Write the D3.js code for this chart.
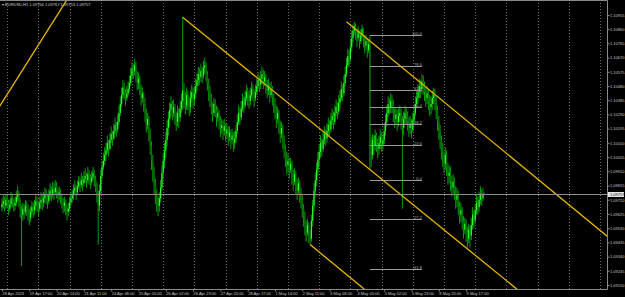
<!DOCTYPE html>
<html>
<head>
<meta charset="utf-8">
<script src="https://cdn.jsdelivr.net/npm/d3@7"></script>
<style>
  html, body { margin: 0; padding: 0; background: #000; }
  svg { display: block; }
  text { font-family: "Liberation Sans", "DejaVu Sans", sans-serif; }
</style>
</head>
<body>
<div id="vis"></div>
<script>
const TITLE = "EURUSD,H1  1.09756 1.09767 1.09753 1.09757";

// hourly bars, 18 Apr 2023 20:00 .. 10 May 2023
const FIRST_OPEN = 1.0967;
const CLOSES = [
  1.0969,1.0971,1.0968,1.0972,1.0970,1.0966,1.0969,1.0973,1.0971,1.0968,
  1.0970,1.0974,1.0976,1.0971,1.0965,1.0962,1.0966,1.0964,1.0968,1.0966,
  1.0963,1.0960,1.0964,1.0967,1.0965,1.0968,1.0971,1.0969,1.0966,1.0970,
  1.0972,1.0970,1.0973,1.0976,1.0974,1.0971,1.0975,1.0978,1.0976,1.0979,
  1.0977,1.0980,1.0978,1.0975,1.0977,1.0974,1.0971,1.0968,1.0970,1.0967,
  1.0964,1.0966,1.0970,1.0973,1.0975,1.0978,1.0980,1.0977,1.0981,1.0984,
  1.0982,1.0985,1.0983,1.0986,1.0988,1.0985,1.0989,1.0987,1.0984,1.0987,
  1.0990,1.0986,1.0982,1.0976,1.0968,1.0978,1.0988,1.0994,1.0998,1.1002,
  1.1005,1.1010,1.1006,1.1012,1.1016,1.1013,1.1018,1.1022,1.1019,1.1024,
  1.1030,1.1036,1.1042,1.1047,1.1044,1.1040,1.1043,1.1046,1.1050,1.1055,
  1.1060,1.1058,1.1062,1.1056,1.1050,1.1053,1.1047,1.1040,1.1043,1.1036,
  1.1030,1.1022,1.1026,1.1016,1.1008,1.0998,1.0990,1.0982,1.0975,1.0970,
  1.0968,1.0973,1.0980,1.0990,1.0998,1.1005,1.1012,1.1020,1.1026,1.1032,
  1.1036,1.1030,1.1034,1.1028,1.1024,1.1030,1.1027,1.1033,1.1038,1.1045,
  1.1040,1.1035,1.1042,1.1038,1.1034,1.1040,1.1044,1.1039,1.1043,1.1048,
  1.1052,1.1056,1.1054,1.1058,1.1055,1.1060,1.1062,1.1056,1.1050,1.1044,
  1.1040,1.1034,1.1030,1.1036,1.1032,1.1027,1.1030,1.1025,1.1020,1.1022,
  1.1018,1.1021,1.1016,1.1019,1.1014,1.1017,1.1012,1.1015,1.1010,1.1013,
  1.1018,1.1024,1.1030,1.1027,1.1033,1.1038,1.1035,1.1040,1.1044,1.1041,
  1.1038,1.1042,1.1046,1.1043,1.1040,1.1044,1.1048,1.1052,1.1049,1.1053,
  1.1056,1.1051,1.1054,1.1049,1.1045,1.1048,1.1042,1.1046,1.1040,1.1036,
  1.1032,1.1026,1.1030,1.1022,1.1016,1.1020,1.1012,1.1006,1.1000,1.0995,
  1.0998,1.0992,1.0996,1.0988,1.0984,1.0989,1.0982,1.0978,1.0983,1.0976,
  1.0972,1.0966,1.0960,1.0955,1.0950,1.0955,1.0948,1.0946,1.0958,1.0968,
  1.0978,1.0985,1.0992,1.0999,1.1004,1.1010,1.1006,1.1012,1.1016,1.1013,
  1.1018,1.1022,1.1019,1.1025,1.1028,1.1024,1.1030,1.1034,1.1031,1.1037,
  1.1040,1.1046,1.1043,1.1050,1.1056,1.1062,1.1068,1.1066,1.1074,1.1080,
  1.1085,1.1088,1.1084,1.1080,1.1084,1.1078,1.1082,1.1086,1.1080,1.1075,
  1.1078,1.1072,1.1076,1.1010,1.1002,1.1012,1.1008,1.1015,1.1010,1.1006,
  1.1010,1.1014,1.1009,1.1012,1.1018,1.1024,1.1030,1.1036,1.1034,1.1038,
  1.1035,1.1030,1.1026,1.1029,1.1024,1.1028,1.1030,1.1025,1.1020,1.1026,
  1.1030,1.1028,1.1024,1.1020,1.1023,1.1019,1.1025,1.1030,1.1036,1.1040,
  1.1044,1.1048,1.1046,1.1051,1.1048,1.1044,1.1040,1.1043,1.1038,1.1034,
  1.1036,1.1040,1.1042,1.1038,1.1032,1.1024,1.1018,1.1012,1.1005,1.1000,
  1.0996,1.1002,1.0994,1.0988,1.0990,1.0984,1.0980,1.0984,1.0978,1.0972,
  1.0975,1.0968,1.0962,1.0965,1.0958,1.0952,1.0956,1.0950,1.0946,1.0952,
  1.0948,1.0955,1.0962,1.0958,1.0965,1.0970,1.0967,1.0972,1.0976,1.0973,1.09756,1.09757
];
const HIGHS = [
  1.0973,1.0975,1.0974,1.0976,1.0975,1.0972,1.0972,1.0977,1.0976,1.0973,
  1.0974,1.0978,1.0981,1.0978,1.0973,1.0968,1.0970,1.0969,1.0972,1.0971,
  1.0969,1.0966,1.0968,1.0971,1.0970,1.0972,1.0976,1.0974,1.0971,1.0974,
  1.0977,1.0975,1.0977,1.0980,1.0979,1.0976,1.0979,1.0983,1.0981,1.0984,
  1.0983,1.0985,1.0984,1.0980,1.0981,1.0979,1.0976,1.0973,1.0974,1.0972,
  1.0969,1.0970,1.0974,1.0977,1.0979,1.0982,1.0985,1.0982,1.0985,1.0988,
  1.0987,1.0990,1.0988,1.0991,1.0993,1.0990,1.0994,1.0992,1.0989,1.0991,
  1.0994,1.0992,1.0988,1.0984,1.0978,1.0982,1.0992,1.0998,1.1003,1.1007,
  1.1010,1.1015,1.1012,1.1017,1.1021,1.1018,1.1023,1.1027,1.1024,1.1029,
  1.1035,1.1041,1.1047,1.1052,1.1050,1.1046,1.1048,1.1051,1.1055,1.1060,
  1.1064,1.1063,1.1066,1.1064,1.1058,1.1057,1.1055,1.1049,1.1047,1.1044,
  1.1040,1.1033,1.1030,1.1028,1.1019,1.1011,1.1002,1.0994,1.0986,1.0979,
  1.0974,1.0977,1.0985,1.0995,1.1003,1.1010,1.1017,1.1025,1.1031,1.1037,
  1.1041,1.1038,1.1039,1.1036,1.1031,1.1035,1.1033,1.1038,1.1043,1.1094,
  1.1050,1.1044,1.1047,1.1045,1.1041,1.1045,1.1049,1.1047,1.1048,1.1053,
  1.1057,1.1061,1.1060,1.1063,1.1061,1.1065,1.1067,1.1064,1.1058,1.1053,
  1.1048,1.1043,1.1037,1.1040,1.1039,1.1035,1.1034,1.1032,1.1028,1.1026,
  1.1025,1.1026,1.1023,1.1023,1.1021,1.1021,1.1019,1.1019,1.1017,1.1018,
  1.1022,1.1029,1.1035,1.1034,1.1038,1.1043,1.1041,1.1045,1.1049,1.1047,
  1.1045,1.1047,1.1051,1.1049,1.1046,1.1049,1.1053,1.1057,1.1055,1.1058,
  1.1061,1.1059,1.1058,1.1056,1.1052,1.1053,1.1050,1.1051,1.1048,1.1043,
  1.1040,1.1035,1.1034,1.1032,1.1025,1.1024,1.1022,1.1015,1.1009,1.1004,
  1.1003,1.1000,1.1000,1.0998,1.0992,1.0993,1.0991,1.0986,1.0987,1.0985,
  1.0980,1.0975,1.0969,1.0964,1.0958,1.0959,1.0957,1.0952,1.0962,1.0972,
  1.0983,1.0990,1.0997,1.1004,1.1009,1.1015,1.1013,1.1017,1.1021,1.1019,
  1.1023,1.1027,1.1025,1.1030,1.1033,1.1031,1.1035,1.1039,1.1037,1.1042,
  1.1045,1.1051,1.1049,1.1055,1.1061,1.1067,1.1073,1.1072,1.1079,1.1085,
  1.1089,1.1091,1.1090,1.1086,1.1088,1.1085,1.1086,1.1089,1.1087,1.1082,
  1.1082,1.1080,1.1079,1.1082,1.1014,1.1016,1.1015,1.1019,1.1017,1.1013,
  1.1015,1.1019,1.1017,1.1016,1.1023,1.1029,1.1035,1.1041,1.1040,1.1043,
  1.1042,1.1039,1.1033,1.1034,1.1032,1.1033,1.1035,1.1033,1.1028,1.1031,
  1.1035,1.1034,1.1031,1.1027,1.1028,1.1026,1.1030,1.1035,1.1041,1.1045,
  1.1049,1.1053,1.1052,1.1056,1.1055,1.1051,1.1047,1.1048,1.1046,1.1042,
  1.1041,1.1045,1.1047,1.1046,1.1041,1.1035,1.1028,1.1022,1.1015,1.1010,
  1.1004,1.1007,1.1005,1.0997,1.0995,1.0994,1.0988,1.0989,1.0987,1.0981,
  1.0980,1.0978,1.0971,1.0970,1.0967,1.0961,1.0960,1.0959,1.0954,1.0956,
  1.0955,1.0960,1.0967,1.0965,1.0969,1.0975,1.0974,1.0977,1.0981,1.0979,1.0980,1.09767
];
const LOWS = [
  1.0964,1.0966,1.0964,1.0966,1.0966,1.0962,1.0964,1.0967,1.0967,1.0964,
  1.0965,1.0968,1.0971,1.0967,1.0960,1.0928,1.0958,1.0959,1.0962,1.0961,
  1.0958,1.0955,1.0957,1.0962,1.0960,1.0962,1.0965,1.0964,1.0961,1.0964,
  1.0966,1.0965,1.0967,1.0970,1.0969,1.0966,1.0969,1.0972,1.0971,1.0973,
  1.0972,1.0975,1.0973,1.0970,1.0972,1.0969,1.0966,1.0963,1.0964,1.0962,
  1.0958,1.0961,1.0964,1.0968,1.0970,1.0972,1.0975,1.0972,1.0975,1.0979,
  1.0977,1.0980,1.0978,1.0981,1.0983,1.0980,1.0983,1.0982,1.0979,1.0982,
  1.0985,1.0981,1.0977,1.0970,1.0942,1.0964,1.0975,1.0986,1.0992,1.0995,
  1.0998,1.1003,1.1001,1.1005,1.1010,1.1008,1.1012,1.1016,1.1014,1.1017,
  1.1022,1.1028,1.1034,1.1040,1.1039,1.1035,1.1038,1.1041,1.1044,1.1048,
  1.1053,1.1053,1.1055,1.1051,1.1045,1.1046,1.1042,1.1035,1.1037,1.1031,
  1.1024,1.1017,1.1019,1.1011,1.1002,1.0992,1.0984,1.0976,1.0969,1.0964,
  1.0961,1.0964,1.0970,1.0978,1.0986,1.0993,1.1000,1.1008,1.1015,1.1021,
  1.1028,1.1025,1.1027,1.1022,1.1018,1.1021,1.1020,1.1024,1.1030,1.1032,
  1.1033,1.1029,1.1032,1.1032,1.1028,1.1030,1.1037,1.1033,1.1035,1.1040,
  1.1045,1.1048,1.1049,1.1051,1.1050,1.1053,1.1056,1.1051,1.1045,1.1038,
  1.1034,1.1029,1.1024,1.1028,1.1027,1.1021,1.1024,1.1019,1.1014,1.1016,
  1.1012,1.1015,1.1011,1.1013,1.1008,1.1011,1.1006,1.1009,1.1004,1.1006,
  1.1010,1.1016,1.1022,1.1022,1.1025,1.1031,1.1030,1.1033,1.1038,1.1035,
  1.1033,1.1035,1.1040,1.1038,1.1034,1.1038,1.1042,1.1046,1.1044,1.1046,
  1.1049,1.1046,1.1048,1.1043,1.1040,1.1042,1.1037,1.1040,1.1035,1.1030,
  1.1026,1.1020,1.1023,1.1016,1.1010,1.1013,1.1006,1.1000,1.0994,1.0989,
  1.0990,1.0986,1.0990,1.0982,1.0978,1.0982,1.0976,1.0972,1.0976,1.0970,
  1.0966,1.0960,1.0954,1.0948,1.0944,1.0948,1.0943,1.0942,1.0944,1.0954,
  1.0964,1.0974,1.0981,1.0988,1.0994,1.1000,1.1001,1.1004,1.1009,1.1008,
  1.1010,1.1015,1.1014,1.1017,1.1022,1.1019,1.1022,1.1028,1.1026,1.1029,
  1.1033,1.1038,1.1038,1.1041,1.1048,1.1054,1.1060,1.1061,1.1064,1.1071,
  1.1077,1.1082,1.1079,1.1074,1.1078,1.1073,1.1076,1.1080,1.1074,1.1070,
  1.1072,1.1067,1.1070,1.0992,1.0994,1.0999,1.1002,1.1005,1.1004,1.1000,
  1.1002,1.1006,1.1004,1.1005,1.1009,1.1015,1.1021,1.1027,1.1029,1.1030,
  1.1030,1.1024,1.1020,1.1022,1.1018,1.1021,1.1024,1.1019,1.0966,1.1015,
  1.1022,1.1022,1.1018,1.1014,1.1016,1.1013,1.1017,1.1022,1.1028,1.1033,
  1.1036,1.1040,1.1040,1.1043,1.1042,1.1038,1.1034,1.1036,1.1032,1.1028,
  1.1029,1.1032,1.1036,1.1032,1.1026,1.1018,1.1012,1.1006,1.0999,1.0994,
  1.0990,1.0992,1.0988,1.0982,1.0983,1.0978,1.0974,1.0976,1.0972,1.0966,
  1.0967,1.0962,1.0956,1.0957,1.0952,1.0946,1.0949,1.0944,1.0940,1.0943,
  1.0940,1.0945,1.0952,1.0953,1.0956,1.0962,1.0962,1.0964,1.0969,1.0968,1.0971,1.09753
];

const PRICE_TICKS = [1.10955,1.10860,1.10765,1.10670,1.10575,1.10480,1.10385,1.10290,1.10195,1.10100,
                     1.10005,1.09910,1.09815,1.09720,1.09625,1.09530,1.09435,1.09340,1.09245,1.09150];
const TIME_LABELS = ["18 Apr 2023","19 Apr 17:00","20 Apr 14:00","21 Apr 11:00","24 Apr 08:00","25 Apr 05:00",
                     "26 Apr 02:00","26 Apr 23:00","27 Apr 20:00","28 Apr 17:00","1 May 14:00","2 May 11:00",
                     "3 May 08:00","4 May 05:00","5 May 02:00","5 May 23:00","8 May 20:00","9 May 17:00"];
const LABEL_STEP = 21;   // bars between time labels
const DAY_BARS = [4,28,52,76,100,124,148,172,196,220,244,268,292,316,340,364,388,412,436,460];

// drawn objects: [bar, price] pairs
const TREND_LINES = [
  [[0, 1.1037], [40, 1.1092]],
  [[139, 1.1094], [337, 1.0954]],
  [[237, 1.0942], [300, 1.0897]],
  [[265, 1.1091], [465, 1.0948]]
];
const FIB_HIGH = 1.1082, FIB_LOW = 1.09855;
const FIB_LEVELS = [100, 78.6, 61.8, 50, 38.2, 23.6, 0, -27.2, -61.8];
const FIB_FROM = 283, FIB_TO = 323;
const LAST_PRICE = 1.09757;

const WIDTH = 625, HEIGHT = 297;
const PLOT_R = 607, PLOT_B = 289;

const x = d3.scaleLinear().domain([0, 371]).range([2, 2 + 371 * 1.3]);
const y = d3.scaleLinear().domain([1.09150, 1.10955]).range([285, 15]);

const svg = d3.select("#vis").append("svg")
  .attr("width", WIDTH).attr("height", HEIGHT);

svg.append("rect").attr("width", WIDTH).attr("height", HEIGHT).attr("fill", "#000");

svg.append("clipPath").attr("id", "plot")
  .append("rect").attr("x", 0).attr("y", 0).attr("width", PLOT_R).attr("height", PLOT_B);

// daily grid
svg.append("g")
  .selectAll("line").data(DAY_BARS).enter().append("line")
    .attr("x1", d => Math.round(x(d)) + 0.5).attr("x2", d => Math.round(x(d)) + 0.5)
    .attr("y1", 0).attr("y2", PLOT_B)
    .attr("stroke", "#6a6a6a").attr("stroke-width", 1).attr("stroke-dasharray", "1,2");

const plot = svg.append("g").attr("clip-path", "url(#plot)");

// candles
const bars = CLOSES.map((c, i) => ({
  i: i,
  o: i === 0 ? FIRST_OPEN : CLOSES[i - 1],
  h: HIGHS[i], l: LOWS[i], c: c
}));

plot.append("g").selectAll("line").data(bars).enter().append("line")
  .attr("x1", d => x(d.i)).attr("x2", d => x(d.i))
  .attr("y1", d => y(d.h)).attr("y2", d => y(d.l))
  .attr("stroke", "#00a000").attr("stroke-width", 1);

plot.append("g").selectAll("rect").data(bars).enter().append("rect")
  .attr("x", d => x(d.i) - 0.6)
  .attr("y", d => y(Math.max(d.o, d.c)))
  .attr("width", 1.2)
  .attr("height", d => Math.max(0.8, Math.abs(y(d.o) - y(d.c))))
  .attr("fill", d => d.c >= d.o ? "#2cff2c" : "#007000");

// fibonacci retracement
const fib = plot.append("g");
FIB_LEVELS.forEach(lv => {
  const p = FIB_LOW + (FIB_HIGH - FIB_LOW) * lv / 100;
  fib.append("line")
    .attr("x1", x(FIB_FROM)).attr("x2", x(FIB_TO))
    .attr("y1", Math.round(y(p)) + 0.5).attr("y2", Math.round(y(p)) + 0.5)
    .attr("stroke", "#9a9a9a").attr("stroke-width", 1);
  fib.append("text")
    .attr("x", x(FIB_TO)).attr("y", Math.round(y(p)) - 0.5)
    .attr("text-anchor", "end").attr("fill", "#a8a8a8").attr("font-size", 4)
    .text(lv.toFixed(1));
});

// trend lines, extended as rays
TREND_LINES.forEach(([a, b], k) => {
  const x1 = x(a[0]), y1 = y(a[1]), x2 = x(b[0]), y2 = y(b[1]);
  const s = (y2 - y1) / (x2 - x1);
  const xe = PLOT_R + 50;
  const xs = k === 0 ? -50 : x1;
  plot.append("line")
    .attr("x1", xs).attr("y1", y1 + s * (xs - x1))
    .attr("x2", xe).attr("y2", y1 + s * (xe - x1))
    .attr("stroke", "#e6b800").attr("stroke-width", 1.3);
});

// last price line
svg.append("line")
  .attr("x1", 0).attr("x2", PLOT_R)
  .attr("y1", Math.round(y(LAST_PRICE)) + 0.5).attr("y2", Math.round(y(LAST_PRICE)) + 0.5)
  .attr("stroke", "#8c8c8c").attr("stroke-width", 1);

// frame
svg.append("path")
  .attr("d", `M0,0.5H${PLOT_R + 0.5}V${PLOT_B + 0.5}H0`)
  .attr("fill", "none").attr("stroke", "#8a8a8a").attr("stroke-width", 1);

// price axis
const yAxis = d3.axisRight(y).tickValues(PRICE_TICKS).tickSize(2).tickFormat(d3.format(".5f"));
const gy = svg.append("g").attr("transform", `translate(${PLOT_R + 0.5},0)`).call(yAxis);
gy.select(".domain").remove();
gy.selectAll("line").attr("stroke", "#8a8a8a");
gy.selectAll("text").attr("fill", "#c8c8c8").attr("font-size", 4).attr("x", 2.5)
  .attr("font-family", "Liberation Sans, sans-serif");

// last price box
const ly = Math.round(y(LAST_PRICE));
svg.append("rect").attr("x", PLOT_R + 1).attr("y", ly - 2).attr("width", 16).attr("height", 5)
  .attr("fill", "#e8e8e8");
svg.append("text").attr("x", PLOT_R + 3).attr("y", ly + 1.6)
  .attr("font-size", 4).attr("fill", "#000").text(LAST_PRICE.toFixed(5));

// time axis
const xAxis = d3.axisBottom(x)
  .tickValues(TIME_LABELS.map((t, k) => k * LABEL_STEP))
  .tickSize(2)
  .tickFormat((d, k) => TIME_LABELS[k]);
const gx = svg.append("g").attr("transform", `translate(0,${PLOT_B + 0.5})`).call(xAxis);
gx.select(".domain").remove();
gx.selectAll("line").attr("stroke", "#8a8a8a");
gx.selectAll("text").attr("fill", "#c8c8c8").attr("font-size", 4)
  .attr("text-anchor", "start").attr("dy", 0).attr("y", 5.5)
  .attr("font-family", "Liberation Sans, sans-serif");

// title
svg.append("text").attr("x", 2).attr("y", 6).attr("fill", "#d0d0d0").attr("font-size", 4)
  .text("\u25BE " + TITLE);
</script>
</body>
</html>
